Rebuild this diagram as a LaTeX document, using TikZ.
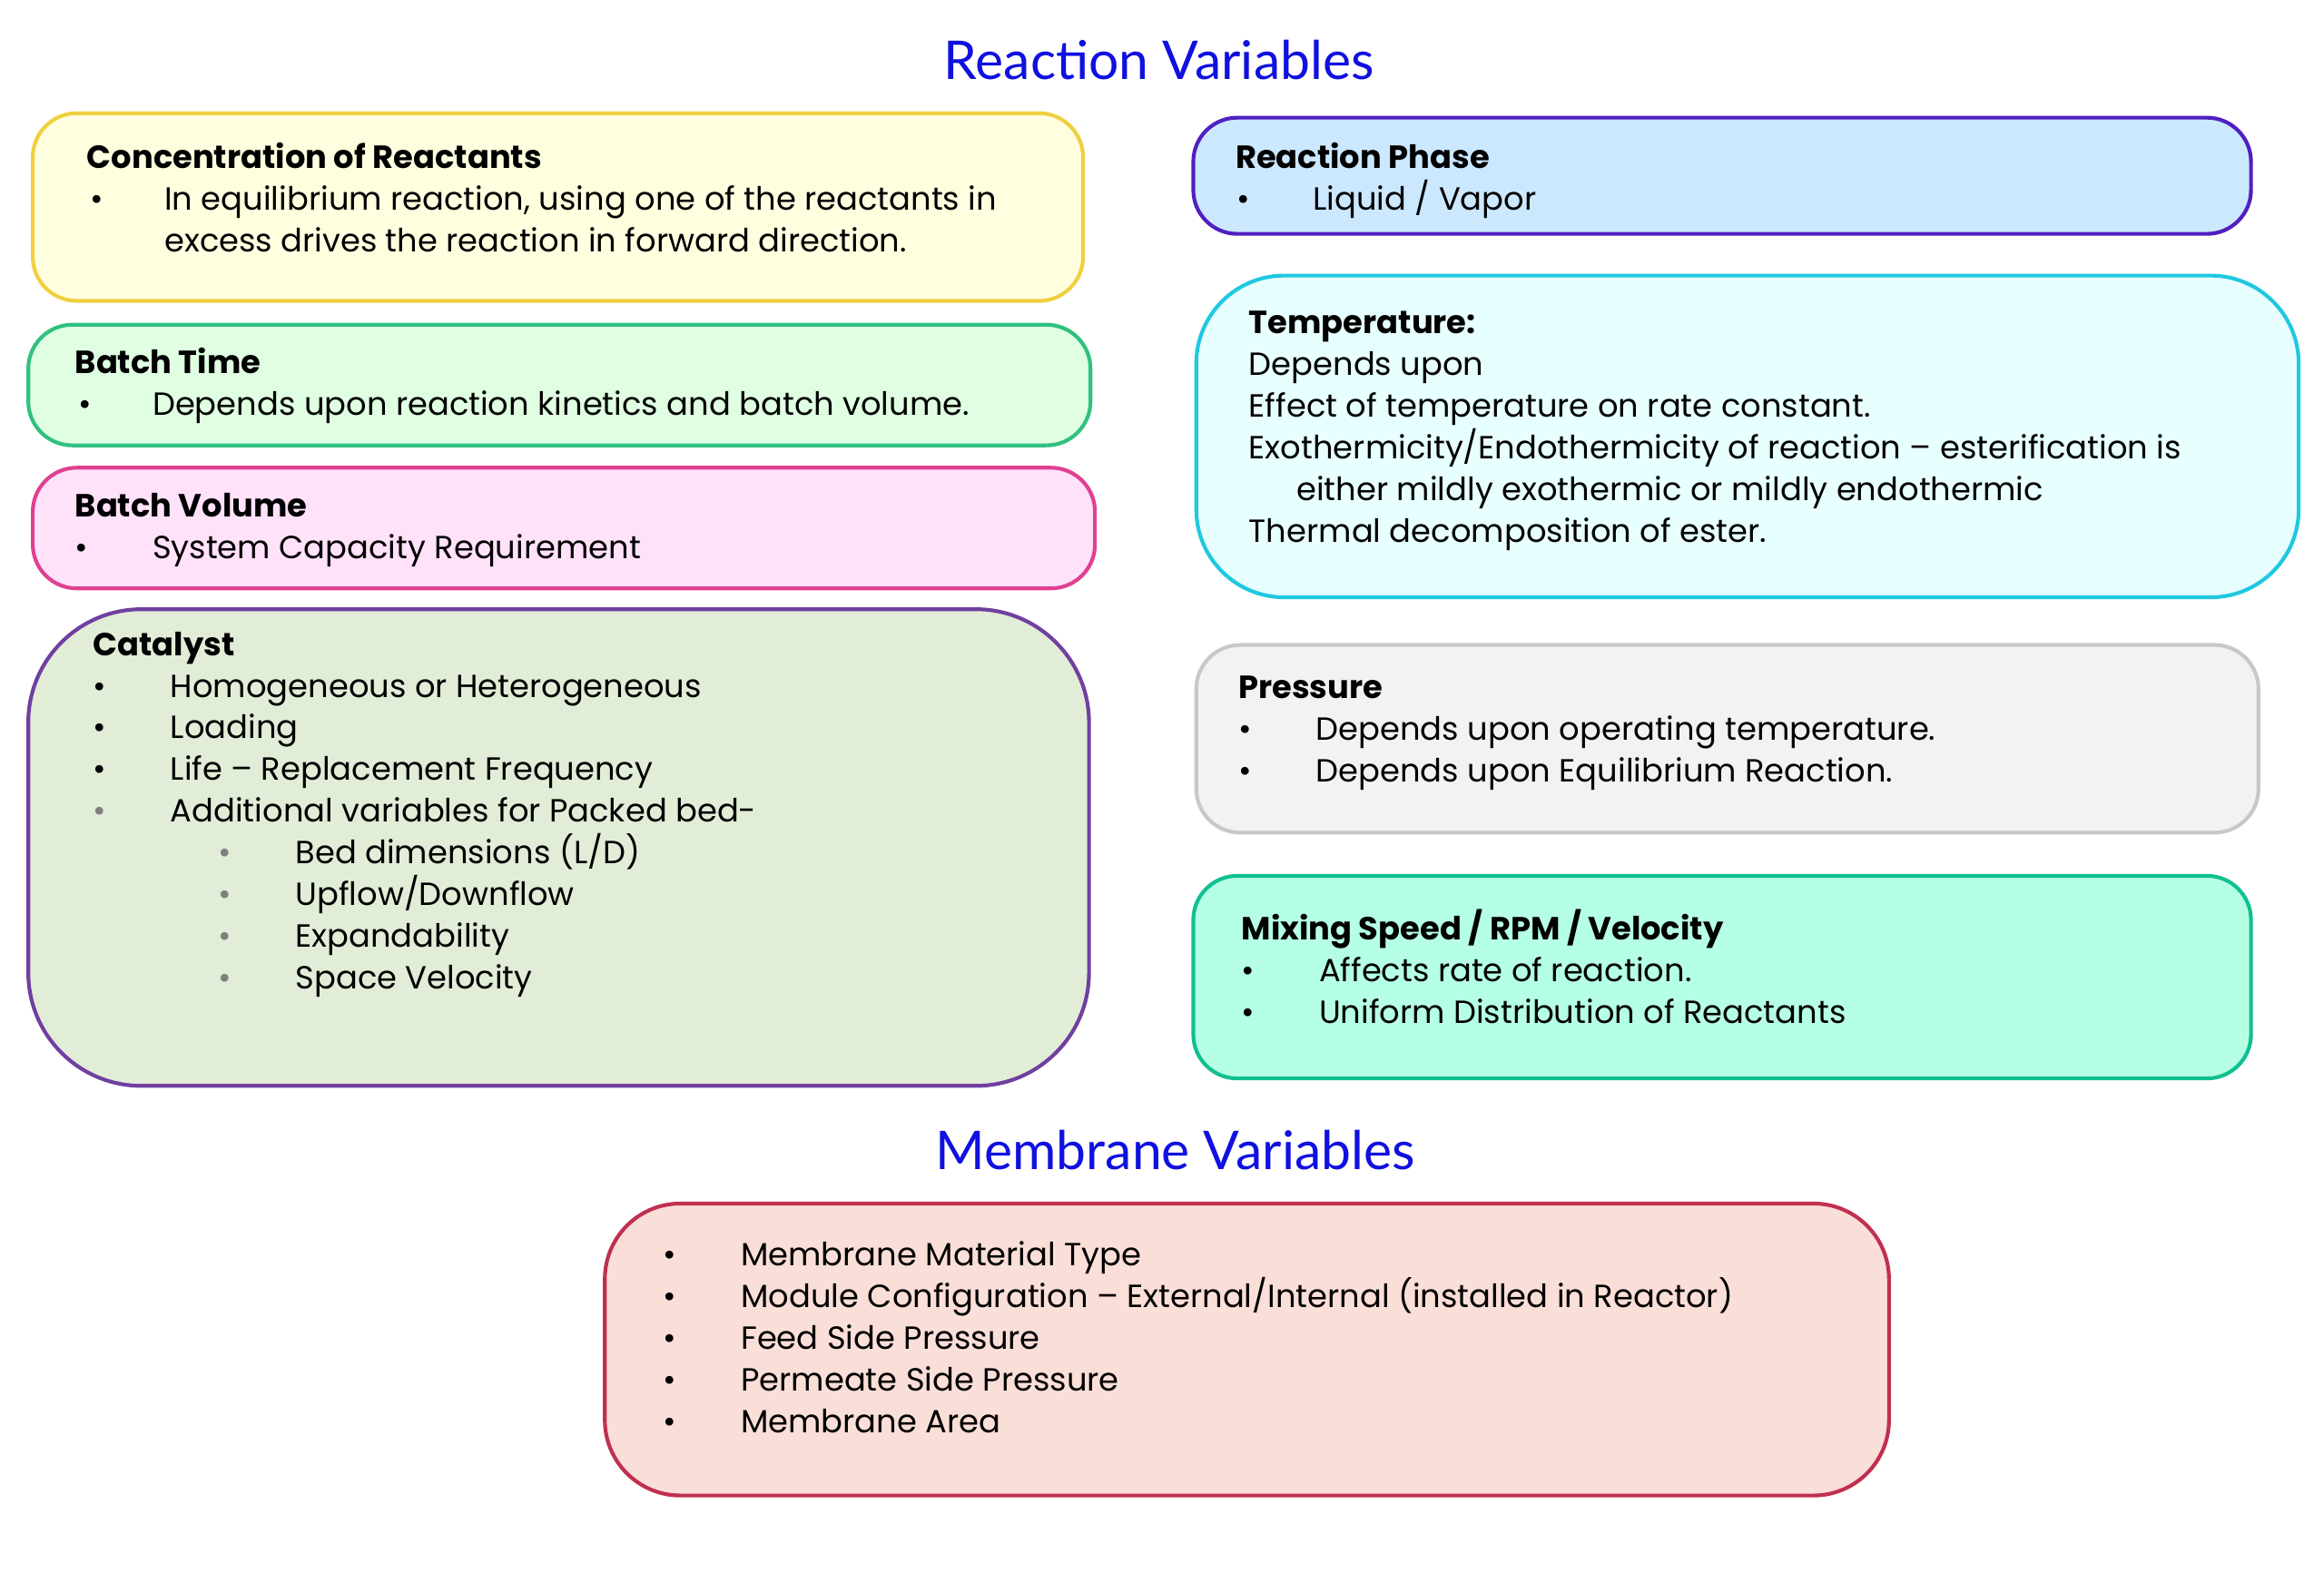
\documentclass[tikz,border=0pt]{standalone}
\usepackage{fontspec}
\setmainfont{Poppins}
\newfontfamily\headfont{Lato}
\definecolor{titleblue}{HTML}{1010E0}
\tikzset{
  box/.style={draw, line width=1.2pt, rounded corners=#1},
  box/.default=14pt,
  txt/.style={anchor=base west, inner sep=0pt, font=\fontsize{10.2}{12}\selectfont},
  head/.style={txt, font=\fontsize{10.2}{12}\selectfont\bfseries},
  dot/.style={txt},
  title/.style={font=\headfont\fontsize{17}{20}\selectfont, text=titleblue}
}
\begin{document}
\begin{tikzpicture}[x=0.016667cm, y=-0.016667cm]
  \useasboundingbox (0,0) rectangle (1560,1056);
  % titles
  \node[title] (rv) at (778,40) {Reaction Variables};
  \node[title] (mv) at (789,772) {Membrane Variables};

  % left column
  \draw[box, fill={rgb,255:red,255;green,255;blue,224}, draw={rgb,255:red,240;green,208;blue,64}] (22,76) rectangle (727,202);
  \node[head] (conc) at (58,113) {Concentration of Reactants};
  \node[dot] at (60,141) {•};
  \node[txt] (conc1) at (110,141) {In equilibrium reaction, using one of the reactants in};
  \node[txt] (conc2) at (110,169) {excess drives the reaction in forward direction.};

  \draw[box, fill={rgb,255:red,224;green,255;blue,226}, draw={rgb,255:red,48;green,192;blue,128}] (19,218) rectangle (732,299);
  \node[head] (time) at (50,251) {Batch Time};
  \node[dot] at (52,279) {•};
  \node[txt] (time1) at (102,279) {Depends upon reaction kinetics and batch volume.};

  \draw[box, fill={rgb,255:red,255;green,226;blue,250}, draw={rgb,255:red,224;green,64;blue,144}] (22,314) rectangle (735,395);
  \node[head] (vol) at (50,347) {Batch Volume};
  \node[dot] at (50,375) {•};
  \node[txt] (vol1) at (102,375) {System Capacity Requirement};

  \draw[box=36pt, fill={rgb,255:red,226;green,237;blue,216}, draw={rgb,255:red,112;green,64;blue,160}] (19,409) rectangle (731,729);
  \node[head] (cat) at (62,440) {Catalyst};
  \foreach \t [count=\i] in {Homogeneous or Heterogeneous, Loading, Life – Replacement Frequency}
    \node[txt] (cat\i) at (114,440+28*\i) {\t};
  \foreach \i in {1,2,3} \node[dot] at (62,440+28*\i) {•};
  \node[dot, text=gray] at (62,552) {•};
  \node[txt] (cat4) at (114,552) {Additional variables for Packed bed-};
  \foreach \t [count=\i] in {Bed dimensions (L/D), Upflow/Downflow, Expandability, Space Velocity}{
    \node[dot, text=gray] at (146,552+28*\i) {•};
    \node[txt] (bed\i) at (198,552+28*\i) {\t};
  }

  % right column
  \draw[box, fill={rgb,255:red,204;green,232;blue,255}, draw={rgb,255:red,80;green,32;blue,192}] (801,79) rectangle (1511,157);
  \node[head] (phase) at (829,113) {Reaction Phase};
  \node[dot] at (830,141) {•};
  \node[txt] (phase1) at (881,141) {Liquid / Vapor};

  \draw[box=28pt, fill={rgb,255:red,232;green,255;blue,255}, draw={rgb,255:red,32;green,200;blue,224}] (803,185) rectangle (1543,401);
  \node[head] (temp) at (838,224) {Temperature:};
  \node[txt] (temp1) at (838,252) {Depends upon};
  \node[txt] (temp2) at (838,280) {Effect of temperature on rate constant.};
  \node[txt] (temp3) at (838,308) {Exothermicity/Endothermicity of reaction – esterification is};
  \node[txt] (temp4) at (870,336) {either mildly exothermic or mildly endothermic};
  \node[txt] (temp5) at (838,364) {Thermal decomposition of ester.};

  \draw[box, fill={rgb,255:red,242;green,242;blue,242}, draw={rgb,255:red,200;green,200;blue,200}] (803,433) rectangle (1516,559);
  \node[head] (pres) at (831,469) {Pressure};
  \foreach \t [count=\i] in {Depends upon operating temperature., Depends upon Equilibrium Reaction.}{
    \node[dot] at (831,469+28*\i) {•};
    \node[txt] (pres\i) at (883,469+28*\i) {\t};
  }

  \draw[box, fill={rgb,255:red,181;green,255;blue,229}, draw={rgb,255:red,16;green,192;blue,144}] (801,588) rectangle (1511,724);
  \node[head] (mix) at (833,631) {Mixing Speed / RPM / Velocity};
  \foreach \t [count=\i] in {Affects rate of reaction., Uniform Distribution of Reactants}{
    \node[dot] at (833,631+28*\i) {•};
    \node[txt] (mix\i) at (885,631+28*\i) {\t};
  }

  % membrane
  \draw[box=24pt, fill={rgb,255:red,250;green,222;blue,216}, draw={rgb,255:red,192;green,48;blue,80}] (406,808) rectangle (1268,1004);
  \foreach \t [count=\i] in {Membrane Material Type, Module Configuration – External/Internal (installed in Reactor), Feed Side Pressure, Permeate Side Pressure, Membrane Area}{
    \node[dot] at (445,822+28*\i) {•};
    \node[txt] (mem\i) at (497,822+28*\i) {\t};
  }
\end{tikzpicture}
\end{document}
